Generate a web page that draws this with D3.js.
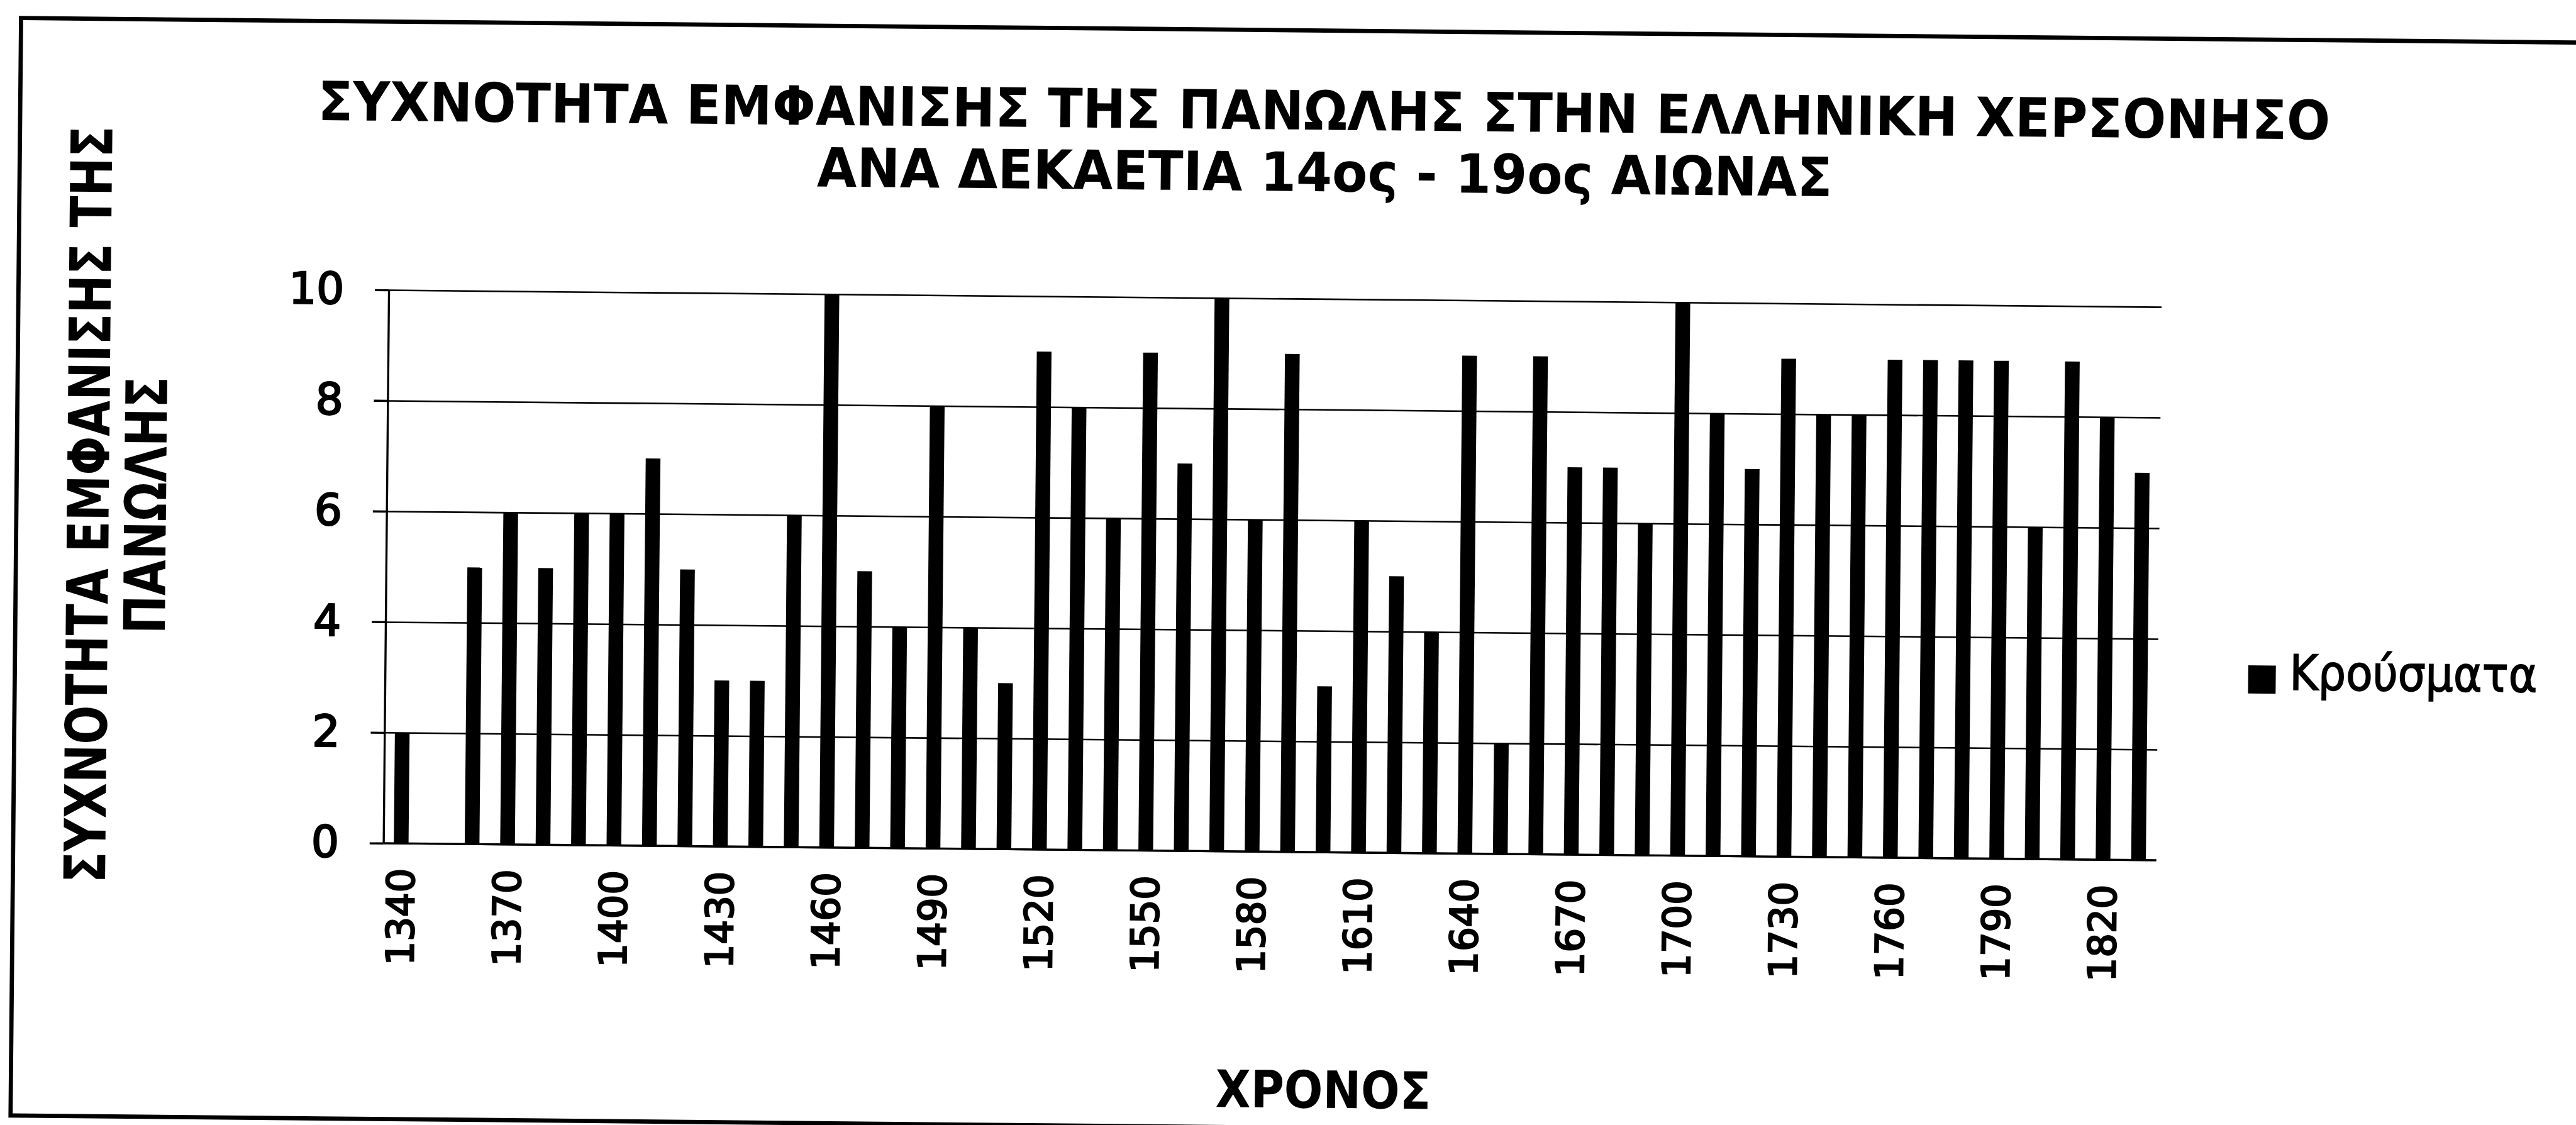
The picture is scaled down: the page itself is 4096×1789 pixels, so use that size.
<!DOCTYPE html>
<html>
<head>
<meta charset="utf-8">
<script src="https://cdn.jsdelivr.net/npm/d3@7"></script>
<style>
  body { margin: 0; background: #fff; }
  svg { display: block; background: #fff; }
  text { font-family: "DejaVu Sans", Verdana, sans-serif; fill: #000; }
</style>
</head>
<body>
<svg></svg>
<script>
// decades on the x axis, plague outbreaks per decade
var decades = [1340, 1350, 1360, 1370, 1380, 1390, 1400, 1410, 1420, 1430,
               1440, 1450, 1460, 1470, 1480, 1490, 1500, 1510, 1520, 1530,
               1540, 1550, 1560, 1570, 1580, 1590, 1600, 1610, 1620, 1630,
               1640, 1650, 1660, 1670, 1680, 1690, 1700, 1710, 1720, 1730,
               1740, 1750, 1760, 1770, 1780, 1790, 1800, 1810, 1820, 1830];
var cases = [2, 0, 5, 6, 5, 6, 6, 7, 5, 3,
             3, 6, 10, 5, 4, 8, 4, 3, 9, 8,
             6, 9, 7, 10, 6, 9, 3, 6, 5, 4,
             9, 2, 9, 7, 7, 6, 10, 8, 7, 9,
             8, 8, 9, 9, 9, 9, 6, 9, 8, 7];
var xLabels = [1340, 1370, 1400, 1430, 1460, 1490, 1520, 1550, 1580,
               1610, 1640, 1670, 1700, 1730, 1760, 1790, 1820];
var yTicks = [0, 2, 4, 6, 8, 10];
var titleLines = ['ΣΥΧΝΟΤΗΤΑ ΕΜΦΑΝΙΣΗΣ ΤΗΣ ΠΑΝΩΛΗΣ ΣΤΗΝ ΕΛΛΗΝΙΚΗ ΧΕΡΣΟΝΗΣΟ',
                  'ΑΝΑ ΔΕΚΑΕΤΙΑ 14ος - 19ος ΑΙΩΝΑΣ'];
var yTitleLines = ['ΣΥΧΝΟΤΗΤΑ ΕΜΦΑΝΙΣΗΣ ΤΗΣ', 'ΠΑΝΩΛΗΣ'];
var xTitle = 'ΧΡΟΝΟΣ';
var seriesName = 'Κρούσματα';

var data = decades.map(function(d, i) { return {decade: d, value: cases[i]}; });

// layout is worked out at the reference size and scaled to the window
var refW = 4856, k = 4096 / refW;
var svg = d3.select('svg').attr('width', 4096).attr('height', 1789);
var root = svg.append('g')
  .attr('transform', 'scale(' + k + ')')
  .append('g')
  .attr('transform', 'rotate(0.55,2428,1060)');   // the scan is a little tilted

// page frame
root.append('rect')
  .attr('x', 30).attr('y', 57)
  .attr('width', 4900).attr('height', 2069)
  .attr('fill', 'none').attr('stroke', '#000').attr('stroke-width', 8);

var plotLeft = 728, plotRight = 4070, plotTop = 563, plotBottom = 1606;

var x = d3.scaleBand()
  .domain(decades)
  .range([plotLeft, plotRight])
  .paddingInner(0.585)
  .paddingOuter(0.2925);

var y = d3.scaleLinear()
  .domain([0, 10])
  .range([plotBottom, plotTop]);

// gridlines
var grid = root.append('g')
  .attr('transform', 'translate(' + plotLeft + ',0)')
  .call(d3.axisLeft(y).tickValues(yTicks).tickSize(-(plotRight - plotLeft)).tickFormat(''));
grid.select('.domain').remove();
grid.selectAll('line').attr('stroke', '#000').attr('stroke-width', 3);

// bars
root.append('g')
  .selectAll('rect')
  .data(data)
  .enter().append('rect')
    .attr('x', d => x(d.decade))
    .attr('y', d => y(d.value))
    .attr('width', x.bandwidth())
    .attr('height', d => y(0) - y(d.value))
    .attr('fill', '#000');

// x axis line
root.append('line')
  .attr('x1', plotLeft).attr('x2', plotRight)
  .attr('y1', y(0)).attr('y2', y(0))
  .attr('stroke', '#000').attr('stroke-width', 4);

// y axis
var yAxis = root.append('g')
  .attr('transform', 'translate(' + plotLeft + ',0)')
  .call(d3.axisLeft(y).tickValues(yTicks).tickSize(26).tickSizeOuter(0).tickPadding(58));
yAxis.attr('font-family', null).attr('font-size', null);
yAxis.select('.domain').attr('stroke-width', 4);
yAxis.selectAll('line').attr('stroke-width', 4);
yAxis.selectAll('text')
  .style('font-size', '82px')
  .attr('stroke', '#000').attr('stroke-width', 3);

// x axis labels
var xAxis = root.append('g')
  .attr('transform', 'translate(0,' + y(0) + ')')
  .call(d3.axisBottom(x).tickValues(xLabels).tickSize(0).tickPadding(0));
xAxis.attr('font-family', null).attr('font-size', null);
xAxis.select('.domain').remove();
xAxis.selectAll('text')
  .attr('transform', 'rotate(-90)')
  .attr('x', -47)
  .attr('y', 0)
  .attr('dy', '0.35em')
  .attr('text-anchor', 'end')
  .style('font-size', '72px')
  .attr('stroke', '#000').attr('stroke-width', 3);

// text squeezed horizontally to the width it has in the reference
function label(str, px, py, size, bold, anchor, targetW, angle) {
  var t = root.append('text')
    .attr('text-anchor', anchor)
    .attr('font-size', size)
    .attr('font-weight', bold ? 'bold' : 'normal')
    .text(str);
  var sx = targetW / t.node().getComputedTextLength();
  t.attr('transform', 'translate(' + px + ',' + py + ') rotate(' + angle + ') scale(' + sx + ',1)');
  return t;
}

// chart title
label(titleLines[0], 2488, 244, 102, true, 'middle', 3793, 0);
label(titleLines[1], 2490, 360, 102, true, 'middle', 1914, 0);

// y axis title
label(yTitleLines[0], 204, 973, 108, true, 'middle', 1427, -90);
label(yTitleLines[1], 312, 973, 108, true, 'middle', 485, -90);

// x axis title
label(xTitle, 2504, 2088, 97, true, 'middle', 406, 0);

// legend
root.append('rect')
  .attr('x', 4240).attr('y', 1237)
  .attr('width', 52).attr('height', 53)
  .attr('fill', '#000');
label(seriesName, 4318, 1282, 92, false, 'start', 467, 0)
  .attr('stroke', '#000').attr('stroke-width', 2);
</script>
</body>
</html>
